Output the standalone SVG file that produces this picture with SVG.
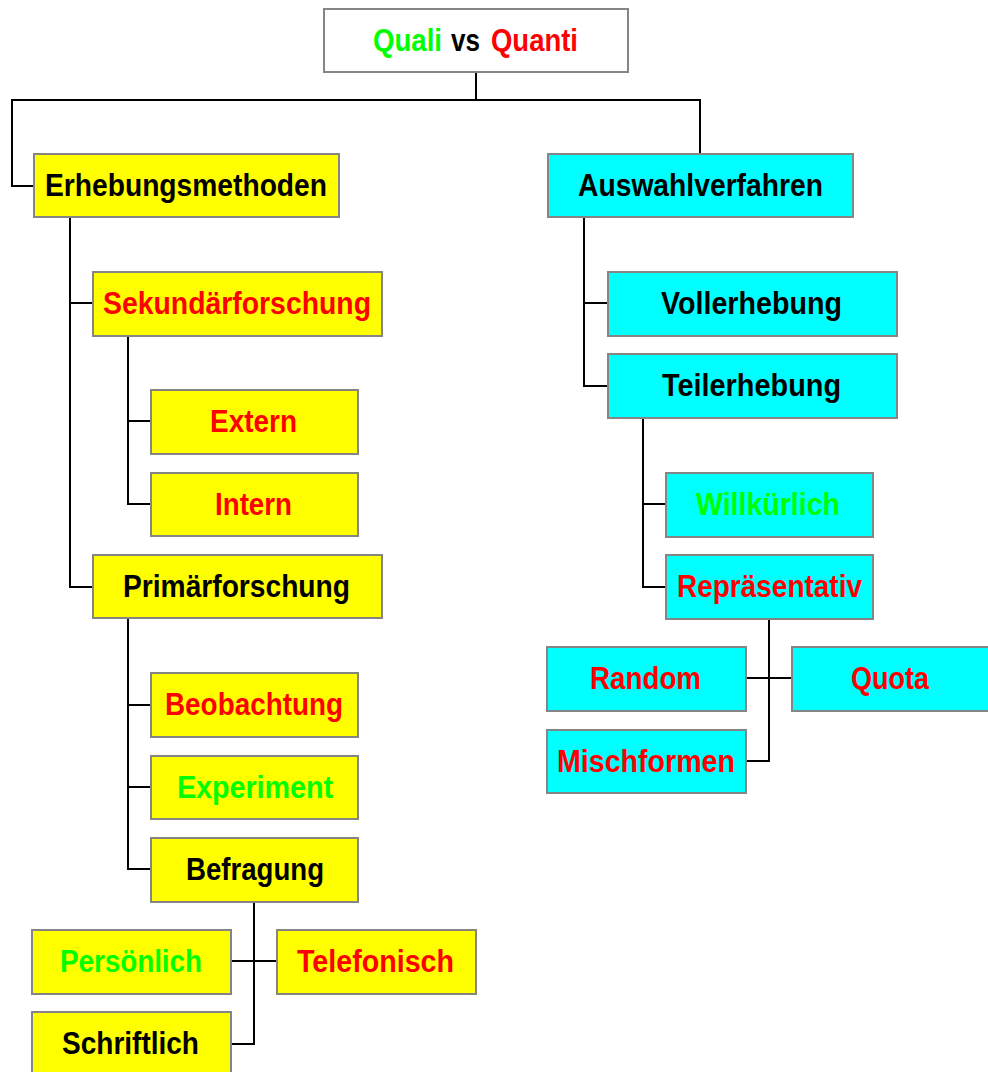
<svg xmlns="http://www.w3.org/2000/svg" width="988" height="1072" viewBox="0 0 988 1072">
  <style>
    .box { stroke: #858585; stroke-width: 2; }
    .yel { fill: #ffff00; }
    .cya { fill: #00ffff; }
    .wht { fill: #ffffff; }
    .lbl { font-family: "Liberation Sans", Arial, sans-serif; font-weight: bold; font-size: 31px; text-anchor: middle; }
    .st { text-anchor: start; }
    .k { fill: #000000; }
    .r { fill: #ff0000; }
    .g { fill: #00ff00; }
    .wire { fill: none; stroke: #000000; stroke-width: 2; }
  </style>
  <rect width="988" height="1072" fill="#ffffff"/>

  <!-- connectors -->
  <g id="connectors" class="wire">
    <path d="M476,72 V100 M34,186 H12 V100 H700 V154"/>
    <path d="M70,217 V587 H93 M70,303 H93"/>
    <path d="M128,336 V504 H151 M128,421 H151"/>
    <path d="M128,618 V869 H151 M128,705 H151 M128,787 H151"/>
    <path d="M254,902 V1044 H231 M231,961 H277"/>
    <path d="M584,217 V386 H608 M584,303 H608"/>
    <path d="M643,418 V587 H666 M643,504 H666"/>
    <path d="M769,619 V761 H746 M746,678 H792"/>
  </g>

  <!-- root -->
  <g id="root">
    <rect class="box wht" x="324" y="9" width="304" height="63"/>
    <text class="lbl st g" x="373" y="51" textLength="69" lengthAdjust="spacingAndGlyphs">Quali</text>
    <text class="lbl st k" x="451" y="51" textLength="29" lengthAdjust="spacingAndGlyphs">vs</text>
    <text class="lbl st r" x="491" y="51" textLength="87" lengthAdjust="spacingAndGlyphs">Quanti</text>
  </g>

  <!-- left branch -->
  <g id="erhebungsmethoden">
    <rect class="box yel" x="34" y="154" width="305" height="63"/>
    <text class="lbl k" x="186" y="196" textLength="282" lengthAdjust="spacingAndGlyphs">Erhebungsmethoden</text>
  </g>
  <g id="sekundaerforschung">
    <rect class="box yel" x="93" y="272" width="289" height="64"/>
    <text class="lbl r" x="237" y="314" textLength="268" lengthAdjust="spacingAndGlyphs">Sekundärforschung</text>
  </g>
  <g id="extern">
    <rect class="box yel" x="151" y="390" width="207" height="64"/>
    <text class="lbl r" x="253.5" y="432" textLength="87" lengthAdjust="spacingAndGlyphs">Extern</text>
  </g>
  <g id="intern">
    <rect class="box yel" x="151" y="473" width="207" height="63"/>
    <text class="lbl r" x="253.5" y="515" textLength="77" lengthAdjust="spacingAndGlyphs">Intern</text>
  </g>
  <g id="primaerforschung">
    <rect class="box yel" x="93" y="555" width="289" height="63"/>
    <text class="lbl k" x="236.5" y="597" textLength="227" lengthAdjust="spacingAndGlyphs">Primärforschung</text>
  </g>
  <g id="beobachtung">
    <rect class="box yel" x="151" y="673" width="207" height="64"/>
    <text class="lbl r" x="254" y="715" textLength="178" lengthAdjust="spacingAndGlyphs">Beobachtung</text>
  </g>
  <g id="experiment">
    <rect class="box yel" x="151" y="756" width="207" height="63"/>
    <text class="lbl g" x="255" y="798" textLength="156" lengthAdjust="spacingAndGlyphs">Experiment</text>
  </g>
  <g id="befragung">
    <rect class="box yel" x="151" y="838" width="207" height="64"/>
    <text class="lbl k" x="255" y="880" textLength="138" lengthAdjust="spacingAndGlyphs">Befragung</text>
  </g>
  <g id="persoenlich">
    <rect class="box yel" x="32" y="930" width="199" height="64"/>
    <text class="lbl g" x="131" y="972" textLength="142" lengthAdjust="spacingAndGlyphs">Persönlich</text>
  </g>
  <g id="telefonisch">
    <rect class="box yel" x="277" y="930" width="199" height="64"/>
    <text class="lbl r" x="375.5" y="972" textLength="157" lengthAdjust="spacingAndGlyphs">Telefonisch</text>
  </g>
  <g id="schriftlich">
    <rect class="box yel" x="32" y="1012" width="199" height="64"/>
    <text class="lbl k" x="130.5" y="1054" textLength="137" lengthAdjust="spacingAndGlyphs">Schriftlich</text>
  </g>

  <!-- right branch -->
  <g id="auswahlverfahren">
    <rect class="box cya" x="548" y="154" width="305" height="63"/>
    <text class="lbl k" x="700.5" y="196" textLength="245" lengthAdjust="spacingAndGlyphs">Auswahlverfahren</text>
  </g>
  <g id="vollerhebung">
    <rect class="box cya" x="608" y="272" width="289" height="64"/>
    <text class="lbl k" x="751.5" y="314" textLength="181" lengthAdjust="spacingAndGlyphs">Vollerhebung</text>
  </g>
  <g id="teilerhebung">
    <rect class="box cya" x="608" y="354" width="289" height="64"/>
    <text class="lbl k" x="751.5" y="396" textLength="179" lengthAdjust="spacingAndGlyphs">Teilerhebung</text>
  </g>
  <g id="willkuerlich">
    <rect class="box cya" x="666" y="473" width="207" height="64"/>
    <text class="lbl g" x="768" y="515" textLength="144" lengthAdjust="spacingAndGlyphs">Willkürlich</text>
  </g>
  <g id="repraesentativ">
    <rect class="box cya" x="666" y="555" width="207" height="64"/>
    <text class="lbl r" x="769.5" y="597" textLength="185" lengthAdjust="spacingAndGlyphs">Repräsentativ</text>
  </g>
  <g id="random">
    <rect class="box cya" x="547" y="647" width="199" height="64"/>
    <text class="lbl r" x="645.5" y="689" textLength="111" lengthAdjust="spacingAndGlyphs">Random</text>
  </g>
  <g id="quota">
    <rect class="box cya" x="792" y="647" width="199" height="64"/>
    <text class="lbl r" x="890" y="689" textLength="78" lengthAdjust="spacingAndGlyphs">Quota</text>
  </g>
  <g id="mischformen">
    <rect class="box cya" x="547" y="730" width="199" height="63"/>
    <text class="lbl r" x="646" y="772" textLength="178" lengthAdjust="spacingAndGlyphs">Mischformen</text>
  </g>
</svg>
